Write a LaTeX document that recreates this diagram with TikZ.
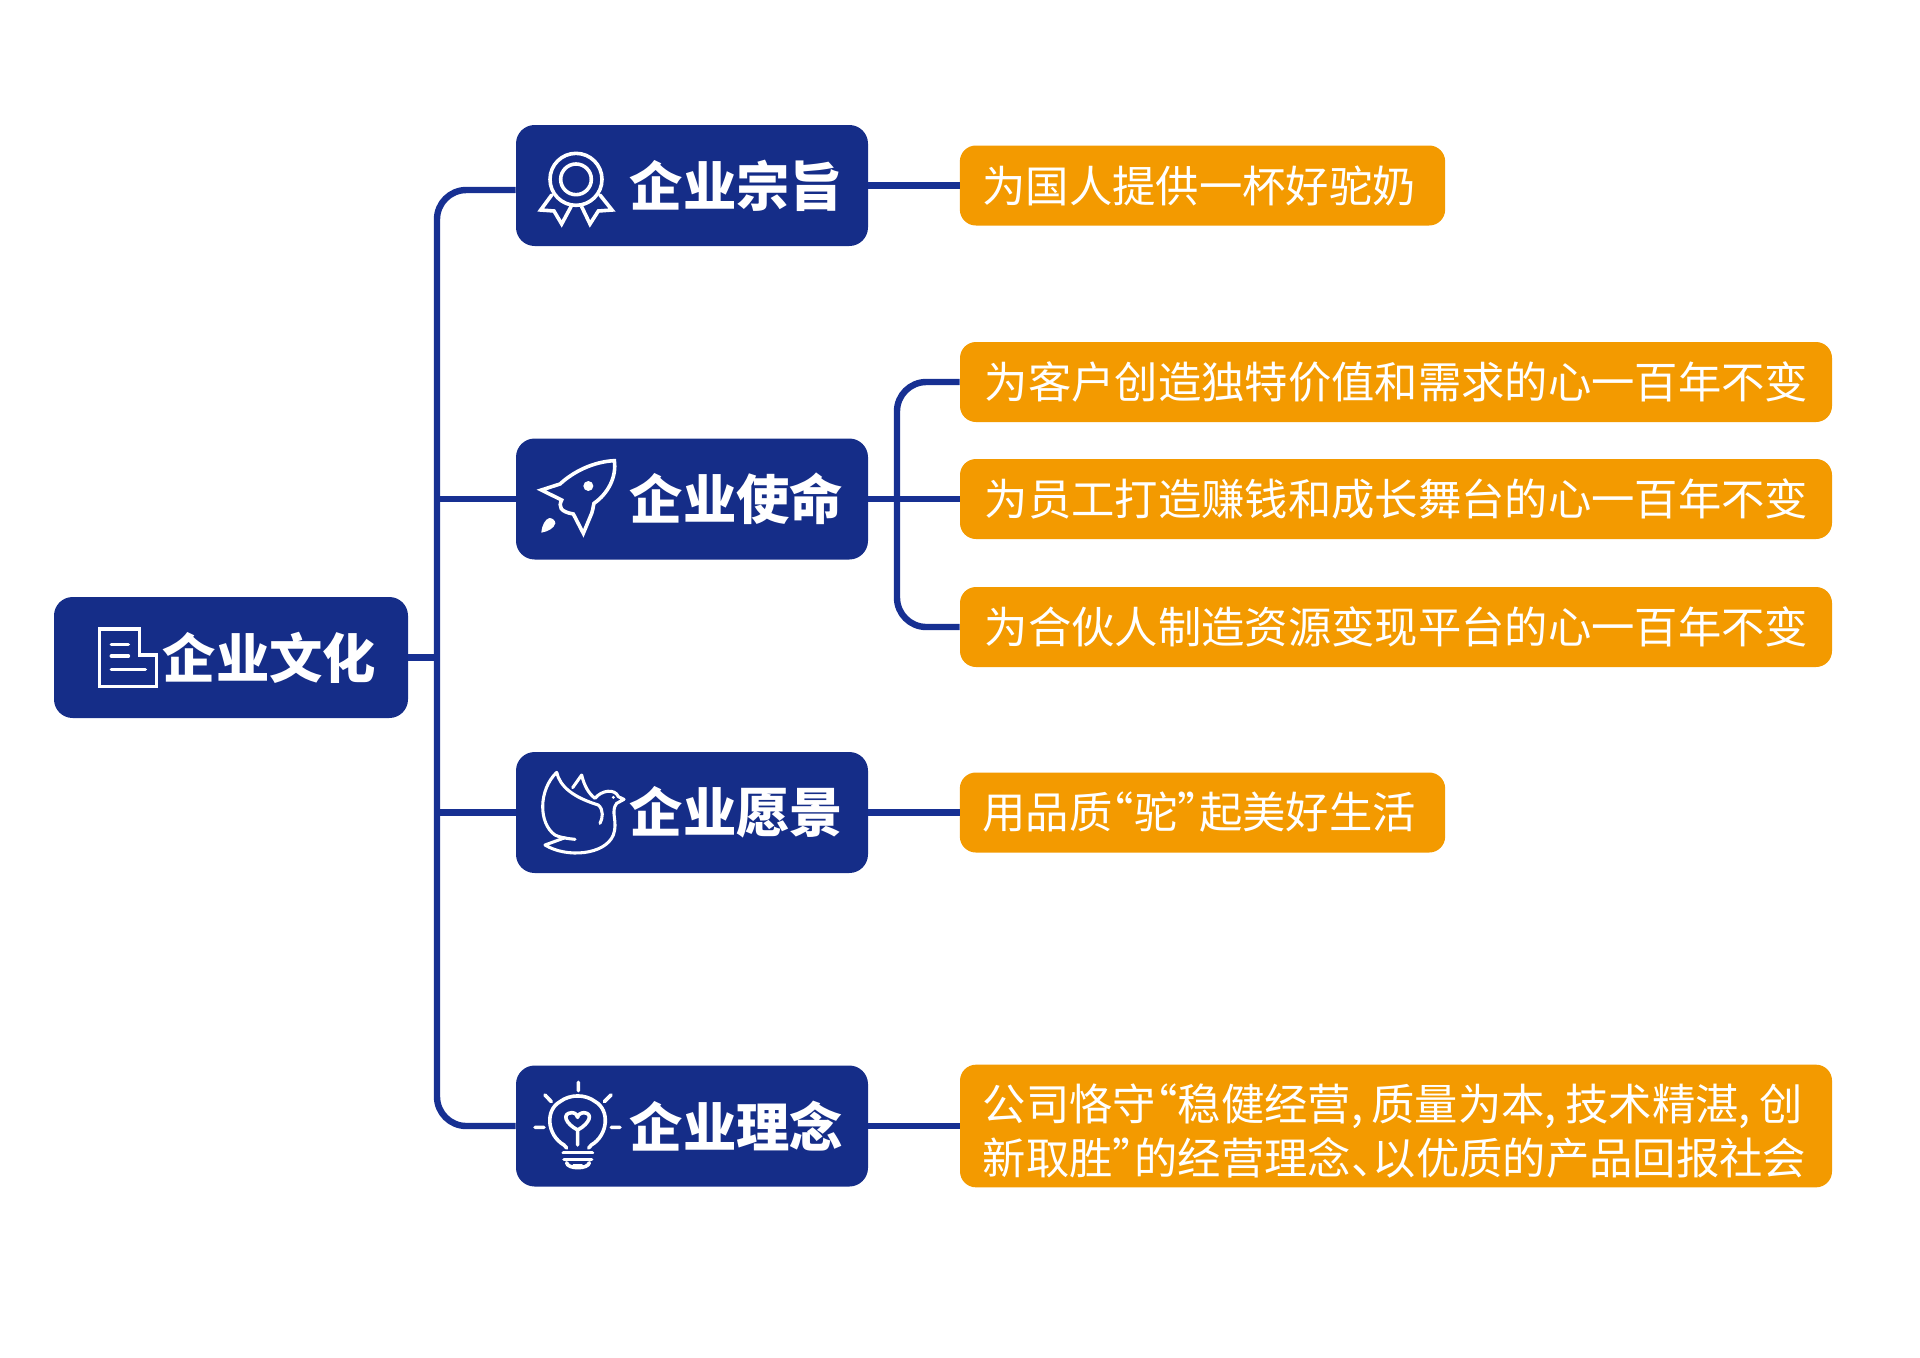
\documentclass[tikz,border=0pt]{standalone}
\usepackage{fontspec}
\setmainfont{Noto Sans CJK SC}
\definecolor{navy}{HTML}{152D88}
\definecolor{linenavy}{HTML}{173092}
\definecolor{amber}{HTML}{F39A00}
\newcommand{\openq}{\makebox[.5em][r]{“}}
\newcommand{\closeq}{\makebox[.5em][l]{”}}
\newcommand{\halfdun}{\makebox[.5em][l]{、}}
\begin{document}
\begin{tikzpicture}[x=0.75pt,y=-0.75pt,
  navybox/.style={fill=navy,rounded corners=14pt,inner xsep=0pt,inner ysep=0pt,
    minimum height=90.75pt,text=white,font=\fontsize{40}{44}\selectfont\bfseries,align=right},
  amberbox/.style={fill=amber,rounded corners=12pt,inner xsep=0pt,inner ysep=0pt,
    minimum height=60pt,text=white,font=\fontsize{32.5}{41}\selectfont,align=left},
  conn/.style={draw=linenavy,line width=4.8pt,rounded corners=22pt},
  ico/.style={draw=white,line width=2.7pt,line join=round,line cap=round},
  icofill/.style={fill=white,draw=none}]
\useasboundingbox (0,0) rectangle (1920,1357);

\coordinate (trT) at (437,190);
\coordinate (trB) at (437,1126);
\coordinate (brT) at (897,382);
\coordinate (brB) at (897,627);

\node[navybox,minimum width=265.5pt,text width=217.5pt] (root) at (231,657.5) {企业文化};
\node[navybox,minimum width=264pt,text width=226.5pt] (b1) at (692,185.5) {企业宗旨};
\node[navybox,minimum width=264pt,text width=226.5pt] (b2) at (692,499) {企业使命};
\node[navybox,minimum width=264pt,text width=226.5pt] (b3) at (692,812.5) {企业愿景};
\node[navybox,minimum width=264pt,text width=226.5pt] (b4) at (692,1126) {企业理念};

\node[amberbox,minimum width=364pt,text width=330pt] (o1) at (1202.5,185.5) {为国人提供一杯好驼奶};
\node[amberbox,minimum width=654pt,text width=620pt] (o2) at (1396,382) {\hspace*{1.6pt}为客户创造独特价值和需求的心一百年不变};
\node[amberbox,minimum width=654pt,text width=620pt] (o3) at (1396,499) {\hspace*{1.6pt}为员工打造赚钱和成长舞台的心一百年不变};
\node[amberbox,minimum width=654pt,text width=620pt] (o4) at (1396,627) {\hspace*{1.6pt}为合伙人制造资源变现平台的心一百年不变};
\node[amberbox,minimum width=364pt,text width=330pt] (o5) at (1202.5,812.5) {用品质\openq 驼\closeq 起美好生活};
\node[amberbox,minimum width=654pt,minimum height=92pt,text width=620pt] (o6) at (1396,1126)
  {\rule{0pt}{35pt}\makebox[615pt][s]{公司恪守\openq 稳健经营,\hfil{}质量为本,\hfil{}技术精湛,\hfil{}创}\\
   \makebox[613pt][s]{新取胜\closeq\hfil{}的经营理念\halfdun\hfil{}以优质的产品回报社会}};

\draw[conn] ([yshift=-3.4pt]b1.west) -- (trT) -- (trB) -- (b4.west);
\draw[conn] (root.east) -- (root.east -| trT);
\draw[conn] (b2.west) -- (b2.west -| trT);
\draw[conn] (b3.west) -- (b3.west -| trT);
\draw[conn] (b1.east) -- (o1.west);
\draw[conn] (b2.east) -- (o3.west);
\draw[conn] (b3.east) -- (o5.west);
\draw[conn] (b4.east) -- (o6.west);
\draw[conn] (o2.west) -- (brT) -- (brB) -- (o4.west);

% document icon
\begin{scope}[shift={(40,580)},x=0.25pt,y=-0.25pt]
  \draw[ico,line cap=butt,line join=miter] (178,147) -- (298,147) -- (298,225) -- (350,225) -- (350,320) -- (178,320) -- cycle;
  \draw[ico] (214,193) -- (265,193) (214,228) -- (265,228) (214,268) -- (316,268);
\end{scope}

% medal icon
\begin{scope}[shift={(510,110)},x=0.25pt,y=-0.25pt]
  \draw[ico] (198,208) circle [radius=78];
  \draw[ico] (198,208) circle [radius=46];
  \draw[ico,line join=miter] (125,255) -- (92,300) -- (132,303) -- (155,342) -- (183,290);
  \draw[ico,line join=miter] (270,255) -- (306,300) -- (265,303) -- (240,342) -- (215,290);
  % rocket icon
  \draw[ico,line join=miter] (313,1052) .. controls (250,1055) and (190,1085) .. (150,1122)
     -- (94,1140) -- (155,1170) .. controls (145,1190) and (150,1205) .. (190,1212)
     -- (220,1270) -- (245,1210) .. controls (250,1195) and (250,1185) .. (252,1180)
     .. controls (295,1150) and (320,1100) .. (313,1052) -- cycle;
  \fill[icofill] (235,1128) circle [radius=15];
  \fill[icofill] (94,1268) .. controls (96,1245) and (105,1228) .. (118,1224)
     .. controls (128,1224) and (136,1232) .. (136,1240)
     .. controls (132,1255) and (115,1264) .. (94,1268) -- cycle;
\end{scope}

% dove and bulb icons
\begin{scope}[shift={(510,740)},x=0.25pt,y=-0.25pt]
  \draw[ico,line width=2.3pt] (140,97) .. controls (85,150) and (85,250) .. (135,285) .. controls (150,293) and (175,296) .. (195,298);
  \draw[ico,line width=2.3pt] (140,97) .. controls (150,140) and (190,172) .. (265,195) .. controls (282,210) and (278,235) .. (270,250);
  \draw[ico,line width=2.3pt] (188,143) -- (215,105) .. controls (222,135) and (235,160) .. (255,175)
     .. controls (275,150) and (315,145) .. (325,170) -- (342,178) -- (320,190)
     .. controls (300,215) and (325,245) .. (310,285)
     .. controls (285,345) and (170,355) .. (105,315) -- (165,293);
  \fill[icofill] (310,172) circle [radius=5];
  % bulb
  \draw[ico] (170,1224) -- (162,1215) .. controls (110,1185) and (105,1110) .. (150,1085)
     .. controls (180,1062) and (226,1062) .. (256,1085)
     .. controls (300,1110) and (295,1185) .. (244,1215) -- (236,1224);
  \draw[ico] (205,1027) -- (205,1052) (105,1065) -- (124,1085) (303,1065) -- (283,1085)
     (75,1162) -- (102,1162) (304,1162) -- (330,1162);
  \draw[ico] (203,1170) .. controls (165,1150) and (155,1120) .. (185,1118) .. controls (195,1118) and (203,1125) .. (203,1132)
     .. controls (203,1125) and (212,1118) .. (222,1118) .. controls (250,1120) and (240,1150) .. (203,1170) -- (203,1215);
  \draw[ico] (160,1238) -- (247,1238) (162,1258) -- (245,1258);
  \draw[ico] (170,1268) .. controls (172,1288) and (235,1288) .. (238,1268);
  \draw[ico,line width=1.8pt] (190,1276) -- (216,1276);
\end{scope}
\end{tikzpicture}
\end{document}
